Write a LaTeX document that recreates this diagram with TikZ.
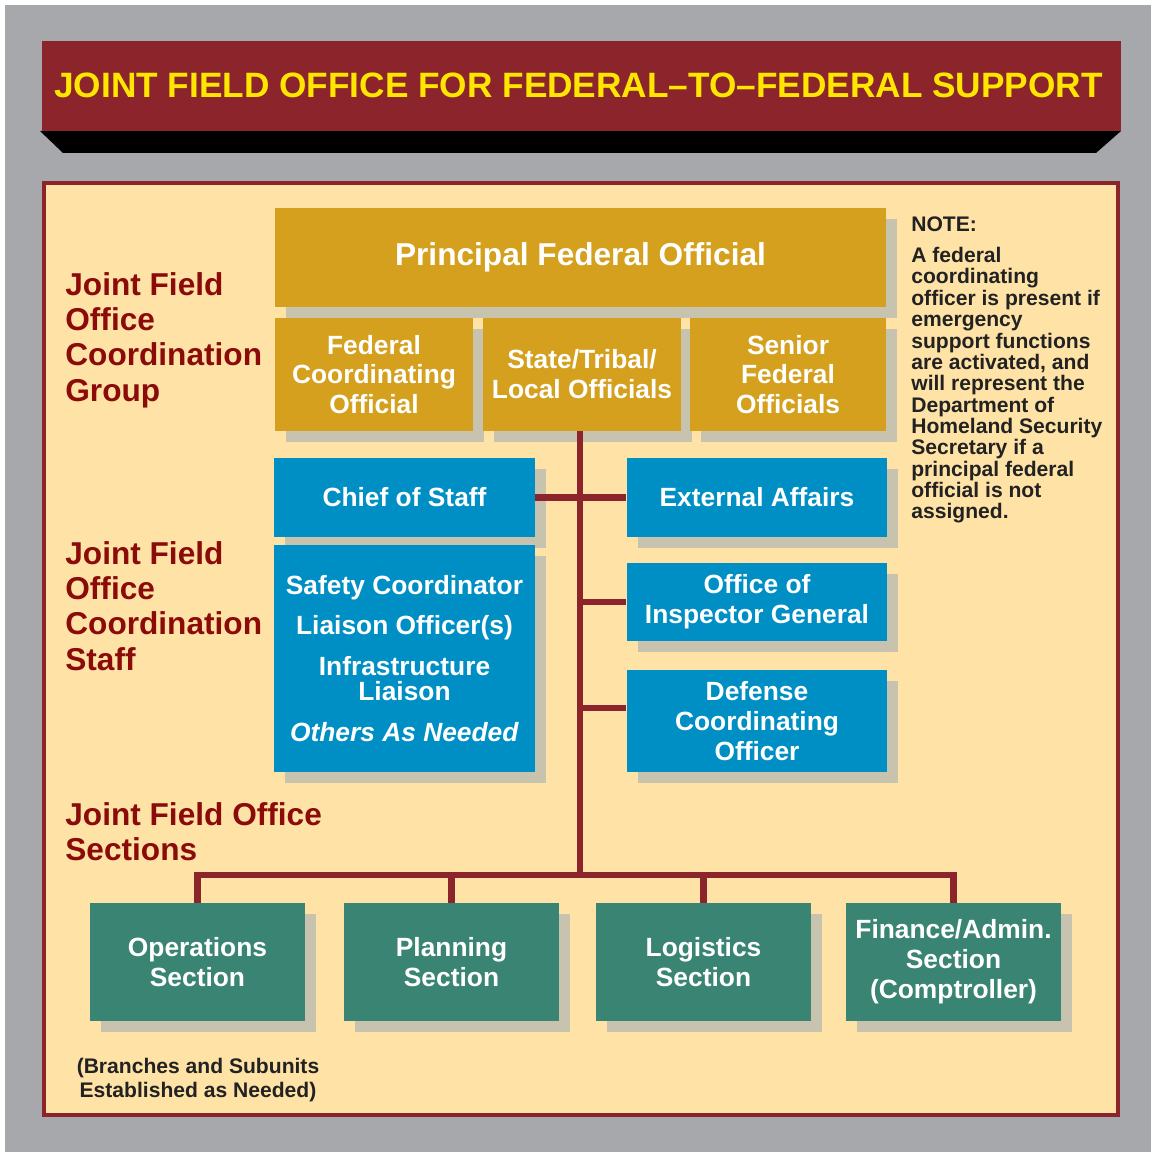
\documentclass[tikz,border=0pt]{standalone}
\usepackage{fontspec}
\setmainfont{Liberation Sans}
\usepackage{xcolor}
\usetikzlibrary{shadows,calc}

\definecolor{bggray}{HTML}{A7A8AC}
\definecolor{bannerred}{HTML}{8C252B}
\definecolor{titleyellow}{HTML}{FFE600}
\definecolor{panelfill}{HTML}{FFE3A6}
\definecolor{fedgold}{HTML}{D4A01E}
\definecolor{staffblue}{HTML}{008FC5}
\definecolor{sectteal}{HTML}{3A8474}
\definecolor{shadowtan}{HTML}{C8C3AE}
\definecolor{labelred}{HTML}{8B0A0A}
\definecolor{notegray}{HTML}{222222}

\newcommand{\titlefont}{\bfseries\fontsize{20.05}{24}\selectfont}
\newcommand{\pfofont}{\bfseries\fontsize{18}{21}\selectfont}
\newcommand{\unitfont}{\bfseries\fontsize{15}{17}\selectfont}
\newcommand{\groupfont}{\bfseries\fontsize{18}{20.1}\selectfont}
\newcommand{\notefont}{\bfseries\fontsize{12}{12.15}\selectfont}

\tikzset{
    unitbox/.style={inner sep=0pt, align=center, text=white, font=\unitfont,
        drop shadow={shadow xshift=0.22cm, shadow yshift=-0.22cm, fill=shadowtan, opacity=1}},
    goldbox/.style={unitbox, fill=fedgold, minimum height=2.26cm},
    bluebox/.style={unitbox, fill=staffblue, minimum width=5.21cm},
    tealbox/.style={unitbox, fill=sectteal, minimum width=4.3cm, minimum height=2.36cm},
    link/.style={draw=bannerred, line width=0.13cm},
    grouplabel/.style={anchor=north west, inner sep=0pt, align=left, text=labelred, font=\groupfont},
    notetext/.style={anchor=north west, inner sep=0pt, align=left, text=notegray, font=\notefont},
}

\begin{document}
\begin{tikzpicture}[x=0.02cm, y=-0.02cm]
    % Page and frame
    \fill[white] (0,0) rectangle (1151,1152);
    \useasboundingbox (0,0) rectangle (1151,1152);
    \fill[bggray] (5,5) rectangle (1151,1152);

    % Banner
    \fill[black] (40,131) -- (1121,131) -- (1096,153) -- (63,153) -- cycle;
    \fill[bannerred] (42,41) rectangle (1121,131);
    \node[text=titleyellow, font=\titlefont, inner sep=0pt] (title) at (578.5,85)
        {JOINT FIELD OFFICE FOR FEDERAL--TO--FEDERAL SUPPORT};

    % Panel
    \draw[draw=bannerred, fill=panelfill, line width=0.08cm] (44,183) rectangle (1118,1115);

    % Coordination group
    \node[goldbox, minimum width=12.22cm, minimum height=1.98cm, font=\pfofont] (pfo) at (580.5,257.5) {Principal Federal Official};
    \node[goldbox, minimum width=3.96cm] (fco) at (374,374.5) {Federal\\Coordinating\\Official};
    \node[goldbox, minimum width=3.96cm] (stl) at (582,374.5) {State/Tribal/\\Local Officials};
    \node[goldbox, minimum width=3.92cm] (sfo) at (788,374.5) {Senior\\Federal\\Officials};

    % Coordination staff
    \node[bluebox, minimum height=1.58cm] (cos) at (404.5,497.5) {Chief of Staff};
    \node[bluebox, minimum height=1.58cm] (ext) at (757,497.5) {External Affairs};
    \node[bluebox, minimum height=4.54cm, font=\bfseries\fontsize{15}{14.6}\selectfont] (staff) at (404.5,658.5)
        {Safety Coordinator\\[8.3pt]Liaison Officer(s)\\[8.5pt]Infrastructure\\Liaison\\[8.6pt]\textit{Others As Needed}};
    \node[bluebox, minimum height=1.56cm] (oig) at (757,602) {Office of\\Inspector General};
    \node[bluebox, minimum height=2.04cm] (dco) at (757,721) {Defense\\Coordinating\\Officer};

    % Sections
    \foreach \name/\px/\txt in {ops/197.5/{Operations\\Section}, plan/451.5/{Planning\\Section},
        logi/703.5/{Logistics\\Section}, fin/953.5/{Finance/Admin.\\Section\\(Comptroller)}}
        \node[tealbox] (\name) at (\px,962) {\txt};

    % Connectors
    \coordinate (bus) at (580,875);
    \coordinate (dcotap) at ([yshift=0.26cm]dco.west);
    \draw[link] (stl.south -| bus) -- (bus);
    \draw[link] (cos.east) -- (ext.west);
    \draw[link] (bus |- oig.west) -- (oig.west);
    \draw[link] (bus |- dcotap) -- (dcotap);
    \draw[link] (ops.north) |- (bus) -| (fin.north);
    \draw[link] (plan.north) -- (plan.north |- bus);
    \draw[link] (logi.north) -- (logi.north |- bus);

    % Group labels
    \node[grouplabel] (grouplbl) at (65,272) {Joint Field\\Office\\Coordination\\Group};
    \node[grouplabel] (stafflbl) at (65,541) {Joint Field\\Office\\Coordination\\Staff};
    \node[grouplabel] (sectlbl) at (65,802) {Joint Field Office\\Sections};

    % Note
    \node[notetext] (notehead) at (911,216) {NOTE:};
    \node[notetext] (notebody) at (911,247) {A federal\\coordinating\\officer is present if\\emergency\\support functions\\are activated, and\\will represent the\\Department of\\Homeland Security\\Secretary if a\\principal federal\\official is not\\assigned.};
    \node[notetext, anchor=north, align=center, font=\bfseries\fontsize{12}{13.6}\selectfont] (branchnote) at (198,1058)
        {(Branches and Subunits\\Established as Needed)};
\end{tikzpicture}
\end{document}
